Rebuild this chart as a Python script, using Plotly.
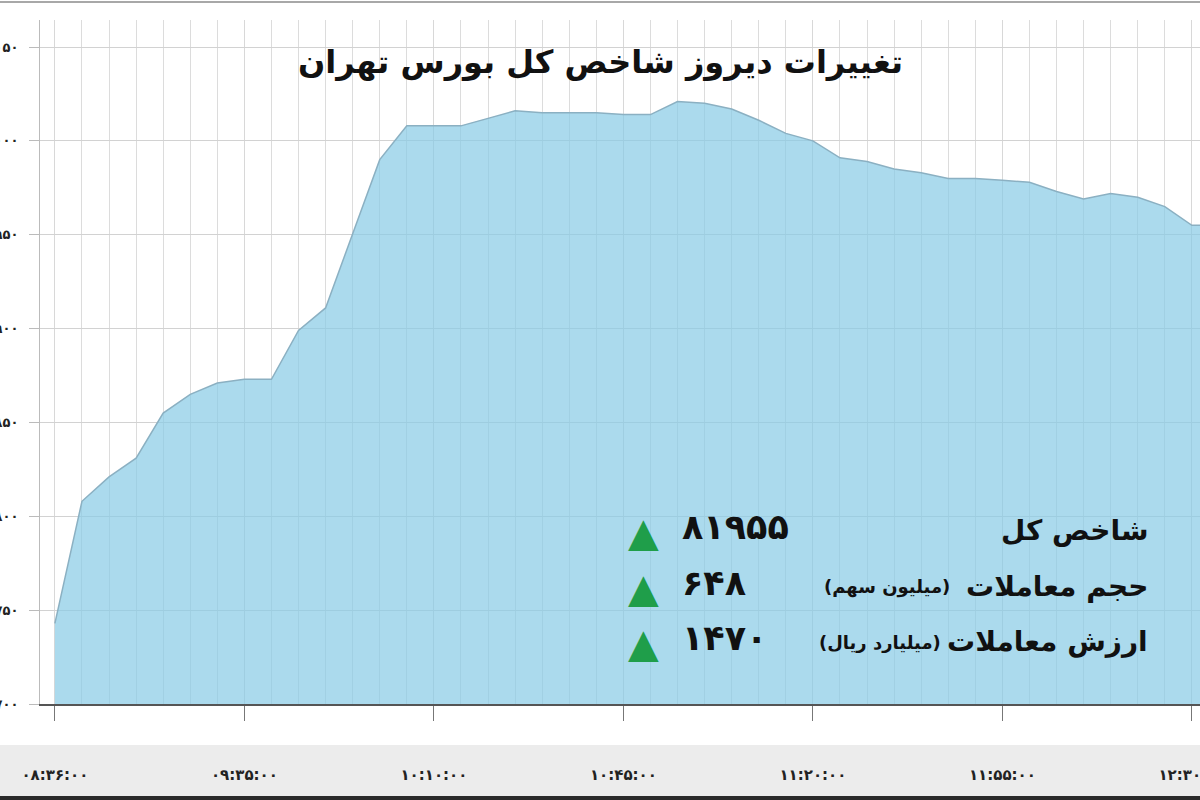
#!/usr/bin/env python3
# coding: utf-8

from plotly import graph_objs as go


TITLE = 'تغییرات دیروز شاخص کل بورس تهران'
FONT = 'DejaVu Sans'

# one point every five minutes
INDEX_VALUES = [
    81743, 81808, 81821, 81831, 81855, 81865, 81871, 81873, 81873, 81899,
    81911, 81950, 81990, 82008, 82008, 82008, 82012, 82016, 82015, 82015,
    82015, 82014, 82014, 82021, 82020, 82017, 82011, 82004, 82000, 81991,
    81989, 81985, 81983, 81980, 81980, 81979, 81978, 81973, 81969, 81972,
    81970, 81965, 81955, 81955,
]

TIME_TICKS = [0, 7, 14, 21, 28, 35, 42]
TIME_LABELS = ['۰۸:۳۶:۰۰', '۰۹:۳۵:۰۰', '۱۰:۱۰:۰۰', '۱۰:۴۵:۰۰',
               '۱۱:۲۰:۰۰', '۱۱:۵۵:۰۰', '۱۲:۳۰:۰۰']

Y_TICKS = [81700, 81750, 81800, 81850, 81900, 81950, 82000, 82050]
Y_LABELS = ['۸۱۷۰۰', '۸۱۷۵۰', '۸۱۸۰۰', '۸۱۸۵۰', '۸۱۹۰۰', '۸۱۹۵۰', '۸۲۰۰۰', '۸۲۰۵۰']

SUMMARY_NAMES = ['شاخص کل', 'حجم معاملات', 'ارزش معاملات']
SUMMARY_UNITS = ['', '(میلیون سهم)', '(میلیارد ریال)']
SUMMARY_VALUES = ['۸۱۹۵۵', '۶۴۸', '۱۴۷۰']

W, H = 1200, 800
M_L, M_R, M_T, M_B = 40, 0, 20, 96


def px(x):
    return (x - M_L) / (W - M_L - M_R)


def py(y):
    return (H - M_B - y) / (H - M_T - M_B)


def summary_annotations():
    notes = []
    rows_y = [530, 586, 641]
    units_x = [0, 952, 943]
    for name, unit, value, y, ux in zip(SUMMARY_NAMES, SUMMARY_UNITS, SUMMARY_VALUES, rows_y, units_x):
        notes.append(dict(x=px(1150), y=py(y), xanchor='right', text=f'<b>{name}</b>',
                          font=dict(size=28, color='#111', family=FONT)))
        if unit:
            notes.append(dict(x=px(ux), y=py(y + 1), xanchor='right', text=f'<b>{unit}</b>',
                              font=dict(size=18, color='#111', family=FONT)))
        notes.append(dict(x=px(680), y=py(y - 3), xanchor='left', text=f'<b>{value}</b>',
                          font=dict(size=35, color='#111', family=FONT)))
        notes.append(dict(x=px(643), y=py(y + 2), xanchor='center', text='▲',
                          font=dict(size=40, color='#1f9e4a', family=FONT)))
    for n in notes:
        n.update(xref='paper', yref='paper', yanchor='middle', showarrow=False)
    return notes


def get_figure():
    fig = go.Figure()
    fig.add_trace(go.Scatter(
        x=list(range(len(INDEX_VALUES))),
        y=INDEX_VALUES,
        mode='lines',
        fill='tozeroy',
        fillcolor='rgba(136,202,230,0.7)',
        line=dict(color='#8bb0c2', width=1.5),
        hoverinfo='skip',
    ))

    title = dict(x=px(600), y=py(62), xref='paper', yref='paper', showarrow=False,
                 xanchor='center', yanchor='middle',
                 text=f'<b>{TITLE}</b>', font=dict(size=32, color='#111', family=FONT))

    shapes = [
        # grey strip under the axis with the time labels
        dict(type='rect', xref='paper', yref='paper', x0=px(0), x1=px(W),
             y0=py(745), y1=py(796), fillcolor='#ececec', line_width=0, layer='below'),
        dict(type='rect', xref='paper', yref='paper', x0=px(0), x1=px(W),
             y0=py(796), y1=py(800), fillcolor='#2a2a2a', line_width=0, layer='below'),
        dict(type='line', xref='paper', yref='paper', x0=px(0), x1=px(W),
             y0=py(2), y1=py(2), line=dict(color='#a8a8a8', width=2)),
    ]

    fig.update_layout(
        width=W, height=H,
        margin=dict(l=M_L, r=M_R, t=M_T, b=M_B),
        paper_bgcolor='white', plot_bgcolor='white',
        showlegend=False,
        font=dict(family=FONT),
        annotations=[title] + summary_annotations(),
        shapes=shapes,
        xaxis=dict(
            range=[-0.55, 42.3],
            tickvals=TIME_TICKS, ticktext=[f'<b>{t}</b>' for t in TIME_LABELS],
            tickfont=dict(size=15, color='#222'),
            ticks='outside', ticklen=15, tickcolor='#777',
            ticklabelstandoff=41, ticklabeloverflow='allow',
            showgrid=True, gridcolor='#d8d8d8', gridwidth=1,
            minor=dict(dtick=1, tick0=0, showgrid=True, gridcolor='#dcdcdc', gridwidth=1),
            showline=True, linecolor='#555', linewidth=2,
            zeroline=False, automargin=False, fixedrange=True,
        ),
        yaxis=dict(
            range=[81700, 82064.4],
            tickvals=Y_TICKS, ticktext=[f'<b>{t}</b>' for t in Y_LABELS],
            tickfont=dict(size=13, color='#222'),
            ticks='outside', ticklen=10, tickcolor='#bbb',
            ticklabelstandoff=8, ticklabeloverflow='allow',
            showgrid=True, gridcolor='#d2d2d2', gridwidth=1.2,
            showline=True, linecolor='#bbb', linewidth=1,
            zeroline=False, automargin=False, fixedrange=True,
        ),
    )
    return fig


def main():
    fig = get_figure()
    # drop the page's default body margin so the figure sits at the window corner
    fig.write_html('out.html', config={'displayModeBar': False},
                   post_script="document.body.style.margin = '0';")


if __name__ == '__main__':
    main()
